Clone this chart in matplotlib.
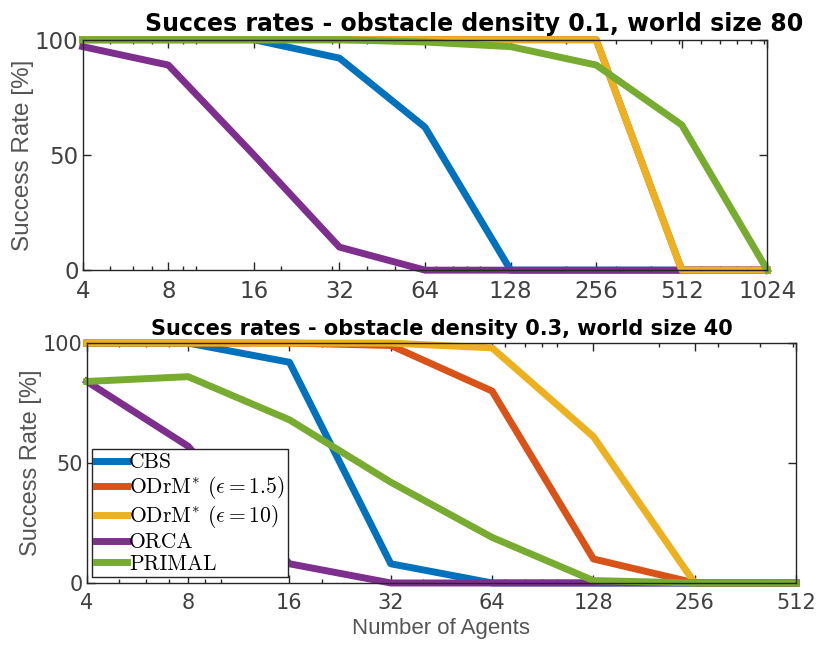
import matplotlib
matplotlib.use('Agg')
import matplotlib.pyplot as plt
from matplotlib.ticker import FixedLocator, NullFormatter

# data
agents_top = [4, 8, 16, 32, 64, 128, 256, 512, 1024]
cbs_top = [100, 100, 100, 92, 62, 0, 0, 0, 0]
odrm15_top = [100, 100, 100, 100, 100, 100, 100, 0, 0]
odrm10_top = [100, 100, 100, 100, 100, 100, 100, 0, 0]
orca_top = [97, 89, 50, 10, 0, 0, 0, 0, 0]
primal_top = [100, 100, 100, 100, 99, 97, 89, 63, 0]

agents_bot = [4, 8, 16, 32, 64, 128, 256, 512]
cbs_bot = [100, 100, 92, 8, 0, 0, 0, 0]
odrm15_bot = [100, 100, 100, 99, 80, 10, 0, 0]
odrm10_bot = [100, 100, 100, 100, 98, 61, 0, 0]
orca_bot = [84, 57, 8, 0, 0, 0, 0, 0]
primal_bot = [84, 86, 68, 42, 19, 1, 0, 0]

labels = ['CBS', r'ODrM$^{*}$ ($\epsilon = 1.5$)', r'ODrM$^{*}$ ($\epsilon = 10$)', 'ORCA', 'PRIMAL']
colors = ['#0072BD', '#D95319', '#EDB120', '#7E2F8E', '#77AC30']

plt.rcParams['mathtext.fontset'] = 'cm'

fig = plt.figure(figsize=(8.19, 6.51), dpi=100)
ax1 = fig.add_axes([0.101, 0.585, 0.836, 0.354])
ax2 = fig.add_axes([0.106, 0.1045, 0.866, 0.3685])

minor = [5, 6, 7, 9, 10, 20, 30, 40, 50, 60, 70, 80, 90, 100,
         200, 300, 400, 500, 600, 700, 800, 900, 1000]


def style(ax, xt, title, fs, tfs, lfs, tx):
    ax.set_xscale('log', base=2)
    ax.set_xlim(xt[0], xt[-1])
    ax.set_ylim(0, 100)
    ax.set_xticks(xt)
    ax.set_xticklabels([str(v) for v in xt])
    ax.xaxis.set_minor_locator(FixedLocator([m for m in minor if xt[0] < m < xt[-1]]))
    ax.xaxis.set_minor_formatter(NullFormatter())
    ax.set_yticks([0, 50, 100])
    ax.tick_params(which='both', direction='in', top=True, right=True,
                   labelsize=fs, colors='#262626', width=1)
    ax.tick_params(which='major', length=6)
    ax.tick_params(which='minor', length=3)
    ax.tick_params(axis='x', pad=7)
    ax.tick_params(axis='y', pad=3)
    for lab in ax.get_xticklabels() + ax.get_yticklabels():
        lab.set_fontfamily('DejaVu Sans')
        lab.set_color('#404040')
    for s in ax.spines.values():
        s.set_color('#262626')
        s.set_linewidth(1)
    ax.set_ylabel('Success Rate [%]', fontsize=lfs, family='Liberation Sans',
                  color='#555555', labelpad=1)
    ax.set_title(title, fontsize=tfs, fontweight='bold', family='DejaVu Sans', pad=6, x=tx)


series_top = [cbs_top, odrm15_top, odrm10_top, orca_top, primal_top]
series_bot = [cbs_bot, odrm15_bot, odrm10_bot, orca_bot, primal_bot]

order_top = [0, 3, 1, 2, 4]
for i in order_top:
    ax1.plot(agents_top, series_top[i], color=colors[i], lw=5, clip_on=False)
for i in range(5):
    ax2.plot(agents_bot, series_bot[i], color=colors[i], lw=5, label=labels[i], clip_on=False)

style(ax1, agents_top, 'Succes rates - obstacle density 0.1, world size 80', 16.5, 17, 17.5, 0.572)
style(ax2, agents_bot, 'Succes rates - obstacle density 0.3, world size 40', 15, 15, 17, 0.5)
ax2.set_xlabel('Number of Agents', fontsize=16, family='Liberation Sans', color='#555555', labelpad=4)

leg = ax2.legend(loc='lower left', bbox_to_anchor=(0.008, 0.025), prop={'family': 'cmr10', 'size': 15.5},
                 handlelength=1.45, handletextpad=0.1, borderpad=0.15, labelspacing=0.1,
                 fancybox=False, framealpha=1, edgecolor='#262626', borderaxespad=0)
leg.get_frame().set_linewidth(1)

fig.savefig('out.png', dpi=100)
